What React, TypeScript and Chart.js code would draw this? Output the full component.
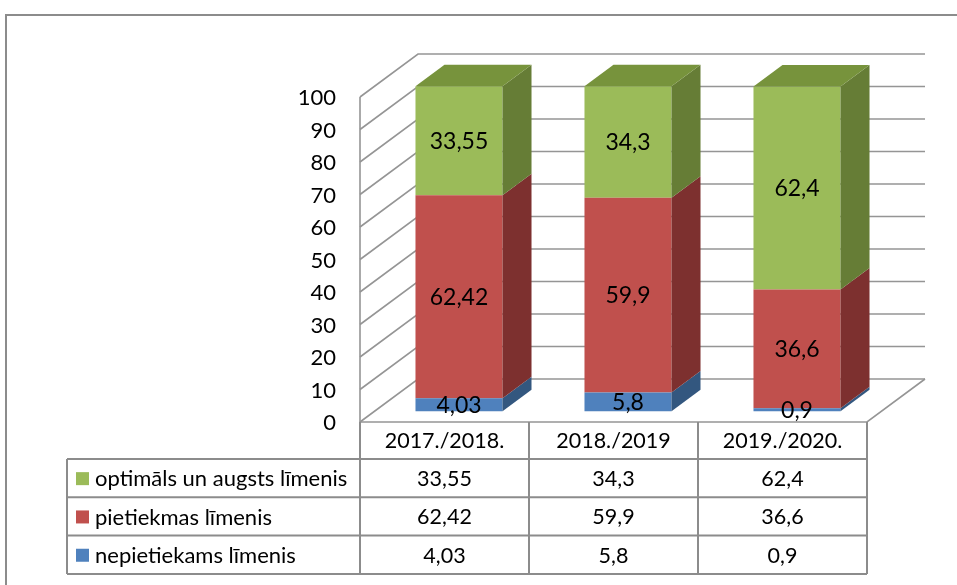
import React, { useEffect, useRef } from 'react';
import { Chart, registerables } from 'chart.js';

Chart.register(...registerables);

// ---- data ----
const categories = ['2017./2018.', '2018./2019', '2019./2020.'];
const seriesNames = ['nepietiekams līmenis', 'pietiekmas līmenis', 'optimāls un augsts līmenis'];
const lowValues = [4.03, 5.8, 0.9];
const midValues = [62.42, 59.9, 36.6];
const highValues = [33.55, 34.3, 62.4];
const yTicks = [0, 10, 20, 30, 40, 50, 60, 70, 80, 90, 100];

// ---- styles ----
const frontColors = ['#4F81BD', '#C0504D', '#9BBB59'];
const sideColors = ['#33577F', '#7D302F', '#667D36'];
const topColors = ['#3E6897', '#9A3E3B', '#77933C'];
const FONT = 'Lato, "Open Sans", sans-serif';
const GRID = '#959595';

// 3D geometry (pixels)
const DX = 58;
const DY = -43;
const BAR_OFF_X = DX / 4;
const BAR_OFF_Y = DY / 4;
const BAR_DX = DX / 2;
const BAR_DY = DY / 2;

const fmt = (v: number) => String(v).replace('.', ',');

const threeD = {
  id: 'threeD',
  beforeDatasetsDraw(chart: any) {
    const { ctx, chartArea: a, scales } = chart;
    const x = scales.x;
    const y = scales.y;
    ctx.save();
    // outer frame
    ctx.strokeStyle = '#8c8c8c';
    ctx.lineWidth = 2;
    ctx.strokeRect(6, 15, 1400, 1400);

    // walls gridlines
    ctx.strokeStyle = GRID;
    ctx.lineWidth = 1.6;
    yTicks.forEach((t) => {
      const yp = y.getPixelForValue(t);
      ctx.beginPath();
      ctx.moveTo(a.left, yp);
      ctx.lineTo(a.left + DX, yp + DY);
      ctx.lineTo(a.right + DX, yp + DY);
      ctx.stroke();
    });
    // left axis
    ctx.beginPath();
    ctx.moveTo(a.left, y.getPixelForValue(100));
    ctx.lineTo(a.left, y.getPixelForValue(0));
    ctx.stroke();
    // floor front & right
    ctx.beginPath();
    ctx.moveTo(a.left, a.bottom);
    ctx.lineTo(a.right, a.bottom);
    ctx.lineTo(a.right + DX, a.bottom + DY);
    ctx.stroke();

    // y tick labels
    ctx.fillStyle = '#000';
    ctx.font = `22px ${FONT}`;
    ctx.textAlign = 'right';
    ctx.textBaseline = 'middle';
    yTicks.forEach((t) => {
      ctx.fillText(String(t), a.left - 24, y.getPixelForValue(t) + 1);
    });

    // data table
    const step = x.getPixelForValue(1) - x.getPixelForValue(0);
    const bounds = categories.map((_, i) => x.getPixelForValue(i) - step / 2);
    bounds.push(x.getPixelForValue(categories.length - 1) + step / 2);
    const legendLeft = 67;
    const headerTop = a.bottom;
    const rowH = 38.3;
    const headerBottom = headerTop + 37;
    const rows = [highValues, midValues, lowValues];
    const rowNames = [seriesNames[2], seriesNames[1], seriesNames[0]];
    const rowColors = [frontColors[2], frontColors[1], frontColors[0]];
    const tableBottom = headerBottom + rowH * rows.length;

    ctx.strokeStyle = '#8c8c8c';
    ctx.lineWidth = 2;
    // horizontal lines
    for (let r = 0; r <= rows.length; r++) {
      const yy = headerBottom + r * rowH;
      ctx.beginPath();
      ctx.moveTo(legendLeft, yy);
      ctx.lineTo(bounds[bounds.length - 1], yy);
      ctx.stroke();
    }
    // vertical lines
    bounds.forEach((bx) => {
      ctx.beginPath();
      ctx.moveTo(bx, headerTop);
      ctx.lineTo(bx, tableBottom);
      ctx.stroke();
    });
    ctx.beginPath();
    ctx.moveTo(legendLeft, headerBottom);
    ctx.lineTo(legendLeft, tableBottom);
    ctx.stroke();

    ctx.font = `21.5px ${FONT}`;
    ctx.fillStyle = '#000';
    ctx.textAlign = 'center';
    categories.forEach((c, i) => {
      ctx.fillText(c, x.getPixelForValue(i), (headerTop + headerBottom) / 2 + 1);
    });
    rows.forEach((vals, r) => {
      const cy = headerBottom + r * rowH + rowH / 2 + 1;
      ctx.textAlign = 'center';
      ctx.fillStyle = '#000';
      ctx.font = `21.5px ${FONT}`;
      vals.forEach((v, i) => ctx.fillText(fmt(v), x.getPixelForValue(i), cy));
      ctx.fillStyle = rowColors[r];
      ctx.fillRect(legendLeft + 9, cy - 7, 13, 13);
      ctx.fillStyle = '#000';
      ctx.textAlign = 'left';
      ctx.font = `22px ${FONT}`;
      ctx.fillText(rowNames[r], legendLeft + 28, cy);
    });
    ctx.restore();

    // shift bars to their depth position
    ctx.save();
    ctx.translate(BAR_OFF_X, BAR_OFF_Y);
  },
  afterDatasetsDraw(chart: any) {
    const { ctx } = chart;
    const n = chart.data.datasets.length;
    for (let i = 0; i < n; i++) {
      const meta = chart.getDatasetMeta(i);
      meta.data.forEach((el: any) => {
        const p = el.getProps(['x', 'y', 'base', 'width'], true);
        const left = p.x - p.width / 2;
        const right = p.x + p.width / 2;
        const top = Math.min(p.y, p.base);
        const bot = Math.max(p.y, p.base);
        ctx.fillStyle = sideColors[i];
        ctx.beginPath();
        ctx.moveTo(right, top);
        ctx.lineTo(right + BAR_DX, top + BAR_DY);
        ctx.lineTo(right + BAR_DX, bot + BAR_DY);
        ctx.lineTo(right, bot);
        ctx.closePath();
        ctx.fill();
        if (i === n - 1) {
          ctx.fillStyle = topColors[i];
          ctx.beginPath();
          ctx.moveTo(left, top);
          ctx.lineTo(right, top);
          ctx.lineTo(right + BAR_DX, top + BAR_DY);
          ctx.lineTo(left + BAR_DX, top + BAR_DY);
          ctx.closePath();
          ctx.fill();
        }
      });
    }
    // value labels
    ctx.font = `23px ${FONT}`;
    ctx.fillStyle = '#000';
    ctx.textAlign = 'center';
    ctx.textBaseline = 'middle';
    for (let i = 0; i < n; i++) {
      const meta = chart.getDatasetMeta(i);
      const vals = chart.data.datasets[i].data as number[];
      meta.data.forEach((el: any, j: number) => {
        const p = el.getProps(['x', 'y', 'base'], true);
        ctx.fillText(fmt(vals[j]), p.x, (p.y + p.base) / 2 + 1);
      });
    }
    ctx.restore();
  },
};

export default function App() {
  const ref = useRef<HTMLCanvasElement>(null);
  useEffect(() => {
    if (!ref.current) return;
    const chart = new Chart(ref.current, {
      type: 'bar',
      data: {
        labels: categories,
        datasets: [
          { label: seriesNames[0], data: lowValues, backgroundColor: frontColors[0], borderWidth: 0 },
          { label: seriesNames[1], data: midValues, backgroundColor: frontColors[1], borderWidth: 0 },
          { label: seriesNames[2], data: highValues, backgroundColor: frontColors[2], borderWidth: 0 },
        ],
      },
      options: {
        responsive: false,
        animation: false,
        devicePixelRatio: 1,
        layout: { padding: { left: 360, right: 90, top: 97, bottom: 163 } },
        datasets: { bar: { categoryPercentage: 1, barPercentage: 0.515, clip: false as any } },
        plugins: { legend: { display: false }, tooltip: { enabled: false } },
        scales: {
          x: { display: false, stacked: true, offset: true },
          y: { display: false, stacked: true, min: 0, max: 100 },
        },
      },
      plugins: [threeD],
    });
    return () => chart.destroy();
  }, []);
  return (
    <div style={{ position: 'fixed', left: 0, top: 0, width: 957, height: 585, background: '#fff' }}>
      <canvas ref={ref} width={957} height={585} style={{ display: 'block', width: 957, height: 585 }} />
    </div>
  );
}
